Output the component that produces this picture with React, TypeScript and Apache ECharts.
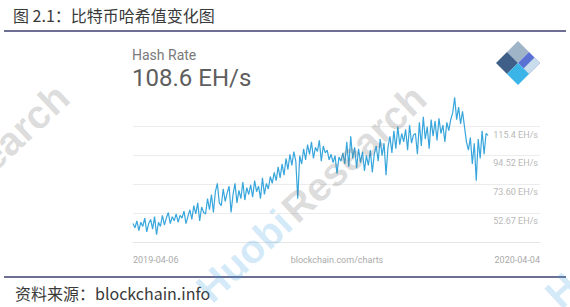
import React, { useEffect, useRef } from "react";
import * as echarts from "echarts";

// Hash rate (EH/s), one value every 2 days, 2019-04-06 .. 2020-04-04
const hashRate = [
  45, 42, 47, 40, 46, 43, 49, 39, 45, 48, 41, 50, 37, 46, 43,
  51, 44, 49, 53, 45, 50, 47, 52, 46, 51, 49, 54, 45, 50,
  55, 48, 58, 52, 60, 47, 57, 53, 52, 63, 55, 66, 53, 68, 74,
  60, 58, 70, 61, 67, 72, 53, 66, 74, 60, 69, 63, 75, 62, 71, 66, 73,
  64, 76, 68, 72, 63, 78, 66, 74, 70, 79, 74, 82, 76, 86, 78, 88, 80,
  92, 84, 95, 87, 97, 90, 63,
  94, 88, 99, 91, 102, 95, 104, 92, 100, 97, 105, 90, 101, 96,
  98, 91, 95, 89, 94, 81, 93, 90, 96, 88,
  104, 86, 108, 92, 100, 85, 99,
  89, 97, 83, 94, 87, 98, 82, 95,
  101, 90, 106, 94, 103, 80, 100,
  108, 96, 112, 99, 115, 102, 110, 104,
  113, 98, 116, 103, 109, 110, 95,
  118, 101, 122, 106, 115, 99, 120,
  108, 119, 105, 121, 110, 116, 104, 118, 112, 120,
  125, 136,
  120, 129, 117, 126, 115,
  104, 98, 107,
  88, 103, 76,
  106, 92, 112, 95, 110, 108.6,
];

const startDate = Date.UTC(2019, 3, 6);
const axisEndDate = Date.UTC(2020, 4, 25);
const DAY = 86400000;

const yTickValues = [52.67, 73.6, 94.52, 115.4];
const yTickLabels = ["52.67 EH/s", "73.60 EH/s", "94.52 EH/s", "115.4 EH/s"];
const xTickLabels = ["2019-04-06", "2020-04-04"];
const xCenterLabel = "blockchain.com/charts";

const titleText = "图 2.1：比特币哈希值变化图";
const sourceText = "资料来源：blockchain.info";
const metricName = "Hash Rate";
const metricValue = "108.6 EH/s";

export default function App() {
  const ref = useRef<HTMLDivElement>(null);

  useEffect(() => {
    if (!ref.current) return;
    const chart = echarts.init(ref.current, undefined, { renderer: "svg" });
    const seriesData = hashRate.map((v, i) => [startDate + i * 2 * DAY, v]);
    const wmAngle = (43 * Math.PI) / 180;
    const wmRich = {
      a: { fontSize: 40, fontWeight: "bold", fontFamily: "Liberation Sans", fill: "rgba(60,160,225,0.24)" },
      b: { fontSize: 40, fontWeight: "bold", fontFamily: "Liberation Sans", fill: "rgba(100,100,100,0.22)" },
    };
    const wm = (x: number, y: number) => ({
      type: "text",
      x,
      y,
      rotation: wmAngle,
      z: 100,
      silent: true,
      style: {
        text: "{a|Huobi} {b|Research}",
        rich: wmRich,
        align: "center",
        verticalAlign: "middle",
      },
    });

    chart.setOption({
      animation: false,
      backgroundColor: "#ffffff",
      grid: { left: 133, right: 30, top: 68, bottom: 65 },
      xAxis: {
        type: "time",
        min: startDate,
        max: axisEndDate,
        axisLabel: { show: false },
        axisTick: { show: false },
        splitLine: { show: false },
        axisLine: { lineStyle: { color: "#e6e6e6", width: 1 } },
      },
      yAxis: {
        type: "value",
        position: "right",
        min: 31.74,
        max: 157.24,
        axisLine: { show: false },
        axisTick: { show: false, customValues: yTickValues },
        axisLabel: {
          customValues: yTickValues,
          inside: true,
          margin: 2,
          color: "#b8b8b8",
          fontSize: 9,
          fontFamily: "Roboto",
          verticalAlign: "top",
          padding: [4, 0, 0, 0],
          formatter: (v: number) => {
            const idx = yTickValues.findIndex((t) => Math.abs(t - v) < 0.01);
            return idx >= 0 ? yTickLabels[idx] : "";
          },
        },
        splitLine: { lineStyle: { color: "#ececec", width: 1 } },
      },
      series: [
        {
          type: "line",
          data: seriesData,
          showSymbol: false,
          lineStyle: { color: "#38a6dc", width: 1.2 },
          itemStyle: { color: "#38a6dc" },
        },
      ],
      graphic: [
        {
          type: "text",
          x: 13,
          y: 15,
          style: {
            text: titleText,
            fontSize: 16,
            fontFamily: "Noto Sans CJK SC",
            fill: "#3a3a3a",
            verticalAlign: "middle",
          },
        },
        {
          type: "line",
          shape: { x1: 4, y1: 31, x2: 566, y2: 31 },
          style: { stroke: "#3b3f6e", lineWidth: 1.5 },
        },
        {
          type: "line",
          shape: { x1: 4, y1: 277, x2: 566, y2: 277 },
          style: { stroke: "#3b3f6e", lineWidth: 1.5 },
        },
        {
          type: "text",
          x: 15,
          y: 293,
          style: {
            text: sourceText,
            fontSize: 16,
            fontFamily: "Noto Sans CJK SC",
            fill: "#3a3a3a",
            verticalAlign: "middle",
          },
        },
        {
          type: "text",
          x: 132,
          y: 55,
          style: {
            text: metricName,
            fontSize: 14,
            fontFamily: "Roboto",
            fill: "#7a7a7a",
            verticalAlign: "middle",
          },
        },
        {
          type: "text",
          x: 132,
          y: 78,
          style: {
            text: metricValue,
            fontSize: 24,
            fontFamily: "Roboto",
            fill: "#5e5e5e",
            verticalAlign: "middle",
          },
        },
        {
          type: "text",
          x: 133,
          y: 260,
          style: { text: xTickLabels[0], fontSize: 9, fontFamily: "Roboto", fill: "#aaaaaa", verticalAlign: "middle" },
        },
        {
          type: "text",
          x: 337,
          y: 260,
          style: { text: xCenterLabel, fontSize: 9, fontFamily: "Roboto", fill: "#aaaaaa", align: "center", verticalAlign: "middle" },
        },
        {
          type: "text",
          x: 540,
          y: 260,
          style: { text: xTickLabels[1], fontSize: 9, fontFamily: "Roboto", fill: "#aaaaaa", align: "right", verticalAlign: "middle" },
        },
        // blockchain logo
        {
          type: "group",
          children: [
            { type: "polygon", shape: { points: [[518, 41], [529, 52], [518, 63], [507, 52]] }, style: { fill: "#9fb4c6" } },
            { type: "polygon", shape: { points: [[507, 52], [518, 63], [507, 74], [496, 63]] }, style: { fill: "#3f5e88" } },
            { type: "polygon", shape: { points: [[529, 52], [540, 63], [529, 74], [518, 63]] }, style: { fill: "#5a70d2" } },
            { type: "polygon", shape: { points: [[534.5, 57.5], [540, 63], [529, 74], [523.5, 68.5]] }, style: { fill: "#c9dded" } },
            { type: "polygon", shape: { points: [[518, 63], [529, 74], [518, 85], [507, 74]] }, style: { fill: "#3bb4e7" } },
          ],
        },
        wm(311, 193),
        wm(-46, 192),
        wm(660, 199),
      ],
    });
    return () => chart.dispose();
  }, []);

  return (
    <div
      ref={ref}
      style={{ position: "fixed", left: 0, top: 0, width: 570, height: 307, background: "#fff" }}
    />
  );
}
